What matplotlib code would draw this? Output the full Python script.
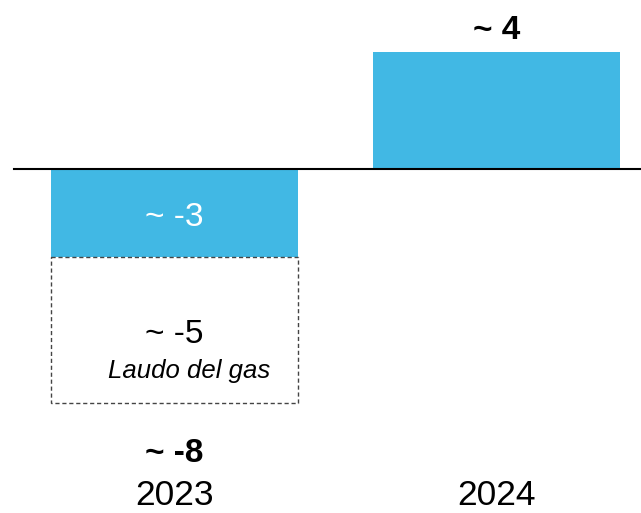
import matplotlib
matplotlib.use('Agg')
import matplotlib.pyplot as plt
from matplotlib.patches import Rectangle

plt.rcParams['font.family'] = ['Liberation Sans', 'DejaVu Sans']

# 年份与数值
years = ['2023', '2024']
bar_values = [-3, 4]
gas_value = -5          # Laudo del gas
total_2023 = -8
bar_labels = ['~ -3', '~ 4']
gas_label = '~ -5'
gas_name = 'Laudo del gas'
total_label = '~ -8'

BLUE = '#41B8E4'
W = 0.767

fig = plt.figure(figsize=(6.41, 5.13), dpi=100)
ax = fig.add_axes([0, 0, 1, 1])
ax.set_xlim(-0.542, 1.449)
ax.set_ylim(-11.76, 5.78)
ax.axis('off')

x = list(range(len(years)))
ax.bar(x, bar_values, width=W, color=BLUE, zorder=2)

# 虚线框：2023 的 gas 部分
ax.add_patch(Rectangle((x[0] - W / 2, bar_values[0]), W, gas_value,
                       fill=False, edgecolor='#444444', linestyle=(0, (3, 2)),
                       linewidth=1.0, zorder=3))

# 零线
ax.plot([-0.498, 1.449], [0, 0], color='black', linewidth=1.5, zorder=4)

# 标签（基线对齐）
ax.text(x[0], bar_values[0] + 1.05, bar_labels[0], color='white', fontsize=24,
        ha='center', va='baseline', zorder=5)
ax.text(x[1], bar_values[1] + 0.44, bar_labels[1], color='black', fontsize=24,
        fontweight='bold', ha='center', va='baseline')
ax.text(x[0], bar_values[0] - 2.95, gas_label, fontsize=24,
        ha='center', va='baseline')
ax.text(x[0] + 0.046, bar_values[0] - 4.15, gas_name, fontsize=18.5,
        style='italic', ha='center', va='baseline')
ax.text(x[0], total_2023 - 2.0, total_label, fontsize=24, fontweight='bold',
        ha='center', va='baseline')
for xi, yr in zip(x, years):
    ax.text(xi, -11.48, yr, fontsize=25.5, ha='center', va='baseline')

fig.savefig('out.png', dpi=100)
